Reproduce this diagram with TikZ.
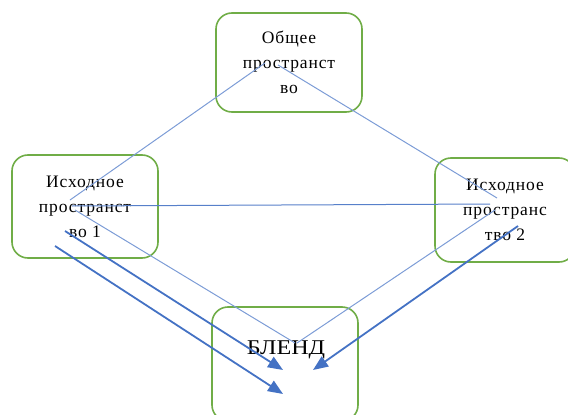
\documentclass[tikz,border=0pt]{standalone}
\usepackage{fontspec}
\setmainfont{Liberation Serif}
\newfontfamily\spacedfont[LetterSpace=5]{Liberation Serif}
\newfontfamily\widefont[FakeStretch=1.15]{Liberation Serif}
\usetikzlibrary{arrows.meta}
\definecolor{boxgreen}{RGB}{112,173,71}
\definecolor{lineblue}{RGB}{68,114,196}

\begin{document}
\begin{tikzpicture}[x=1pt,y=-1pt,
        space/.style={draw=boxgreen,line width=1.6pt,rounded corners=16pt,
            minimum width=146pt,align=center,inner sep=0pt,
            font=\spacedfont\fontsize{17.5}{25}\selectfont},
        link/.style={draw=lineblue!70,line width=1pt},
        flow/.style={draw=lineblue,line width=1.8pt,
            -{Triangle[length=15pt,width=12pt]}}]
\clip (0,0) rectangle (568,415);

\node[space,minimum height=99pt] (gen) at (289,62.5) {Общее\\пространст\\во};
\node[space,minimum height=103pt] (src1) at (85,206.5) {Исходное\\пространст\\во 1};
\node[space,minimum width=140pt,minimum height=104pt] (src2) at (505,210) {Исходное\\пространс\\тво 2};
\node[space,minimum height=114pt] (blend) at (285,364) {};
\node[font=\widefont\fontsize{21}{24}\selectfont] (blendname) at (286,350) {БЛЕНД};

\coordinate (gen-l) at (265,63);
\coordinate (gen-r) at (278,65);
\coordinate (src1-g) at (70,200);
\coordinate (src1-s) at (72,206);
\coordinate (src1-b) at (75,210);
\coordinate (src1-f) at (65,231);
\coordinate (src1-h) at (55,246);
\coordinate (src2-g) at (497,198);
\coordinate (src2-s) at (490,204);
\coordinate (src2-b) at (495,210);
\coordinate (src2-f) at (518,226);
\coordinate (blend-l) at (295,343);
\coordinate (blend-r) at (297,343);
\coordinate (blend-a) at (283,370);
\coordinate (blend-c) at (283,394);
\coordinate (blend-b) at (313,370);

\draw[link] (gen-l) -- (src1-g);
\draw[link] (gen-r) -- (src2-g);
\draw[link,draw=lineblue!90] (src1-s) -- (src2-s);
\draw[link] (src1-b) -- (blend-l);
\draw[link] (src2-b) -- (blend-r);

\draw[flow] (src1-f) -- (blend-a);
\draw[flow] (src1-h) -- (blend-c);
\draw[flow] (src2-f) -- (blend-b);

\end{tikzpicture}
\end{document}
